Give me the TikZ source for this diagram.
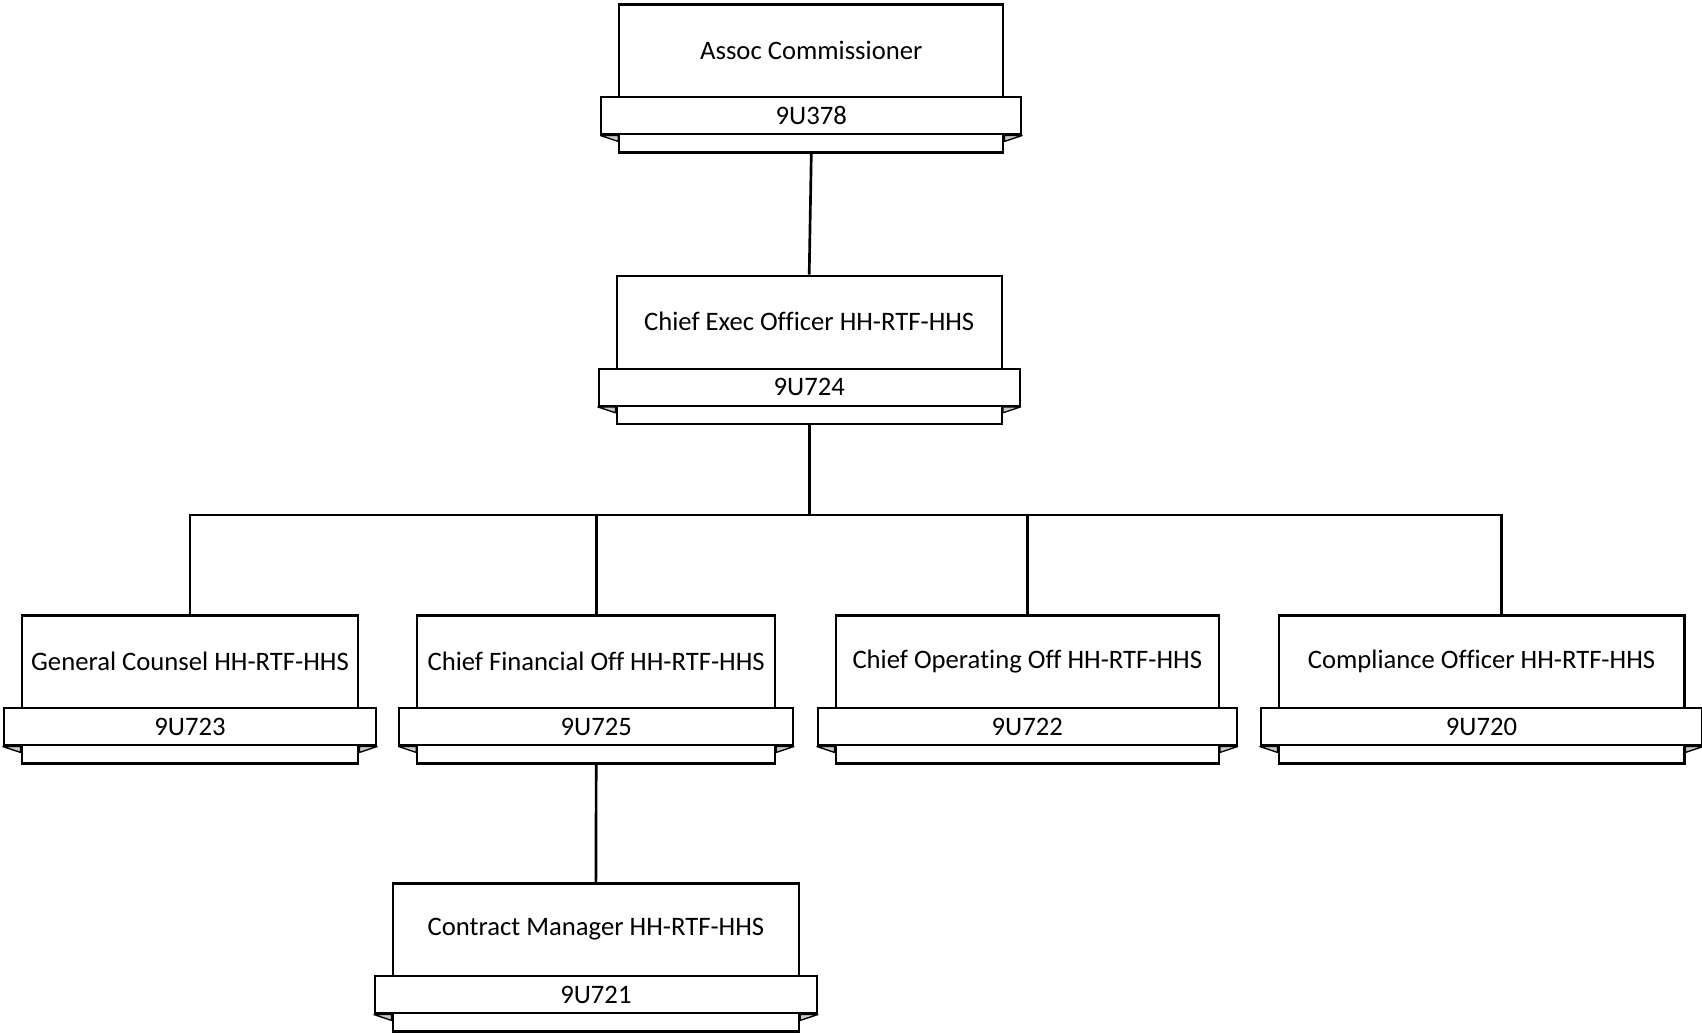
\documentclass[tikz,border=0pt]{standalone}
\usepackage{fontspec}
\setmainfont[Ligatures={NoCommon}]{Carlito}
\usepackage{tikz}
\usetikzlibrary{calc}
\usepackage{xcolor}
\definecolor{foldgray}{RGB}{200,200,200}

\begin{document}
\begin{tikzpicture}[x=0.75pt,y=-0.75pt]
\tikzstyle{every path}=[line width=1.7pt]
\tikzstyle{unitbox}=[draw,fill=white,anchor=north,minimum height=111pt,inner sep=0pt]
\tikzstyle{unittitle}=[inner sep=0pt,font=\fontsize{20pt}{24pt}\selectfont]
\tikzstyle{codeband}=[draw,fill=white,minimum height=27.75pt,inner sep=0pt,font=\fontsize{20pt}{24pt}\selectfont]
\tikzstyle{fold}=[fill=foldgray,draw=black,line width=1pt,line join=bevel]
\tikzstyle{link}=[line width=2pt]

\useasboundingbox (0,0) rectangle (1702,1032);

% name, x, y, width, title, code
\newcommand{\orgunit}[6]{
    \node [unitbox,minimum width=#4*0.75pt] (#1) at (#2,#3) {};
    \node [unittitle] (#1title) at ($(#1.north)+(0,47)$) {#5};
    \node [codeband,minimum width=(#4+36)*0.75pt] (#1code) at ($(#1.north)+(0,112.5)$) {#6};
    \filldraw [fold] (#1code.south west) -- (#1code.south west -| #1.west) -- ($(#1code.south west -| #1.west)+(0,6)$) -- cycle;
    \filldraw [fold] (#1code.south east) -- (#1code.south east -| #1.east) -- ($(#1code.south east -| #1.east)+(0,6)$) -- cycle;
}

\orgunit{assoc}{811.3}{3.3}{384}{Assoc Commissioner}{9U378}
\orgunit{ceo}{809.2}{274.7}{385}{Chief Exec Officer HH-RTF-HHS}{9U724}
\orgunit{gc}{190}{614.3}{336.6}{General Counsel HH-RTF-HHS}{9U723}
\orgunit{cfo}{596.2}{614.3}{357.7}{Chief Financial Off HH-RTF-HHS}{9U725}
\orgunit{coo}{1027.3}{614.3}{383.2}{Chief Operating Off HH-RTF-HHS}{9U722}
\orgunit{comp}{1481.5}{614.3}{405.7}{Compliance Officer HH-RTF-HHS}{9U720}
\orgunit{cm}{595.9}{882.3}{406.3}{Contract Manager HH-RTF-HHS}{9U721}

\coordinate (bus) at (809.2,515);

\draw[link] (assoc.south) -- (ceo.north);
\draw[link] (ceo.south) -- (bus);
\draw[link] (bus) -| (gc.north);
\draw[link] (bus) -| (cfo.north);
\draw[link] (bus) -| (coo.north);
\draw[link] (bus) -| ($(comp.north)+(20,0)$);
\draw[link] (cfo.south) -- (cm.north);
\end{tikzpicture}
\end{document}
